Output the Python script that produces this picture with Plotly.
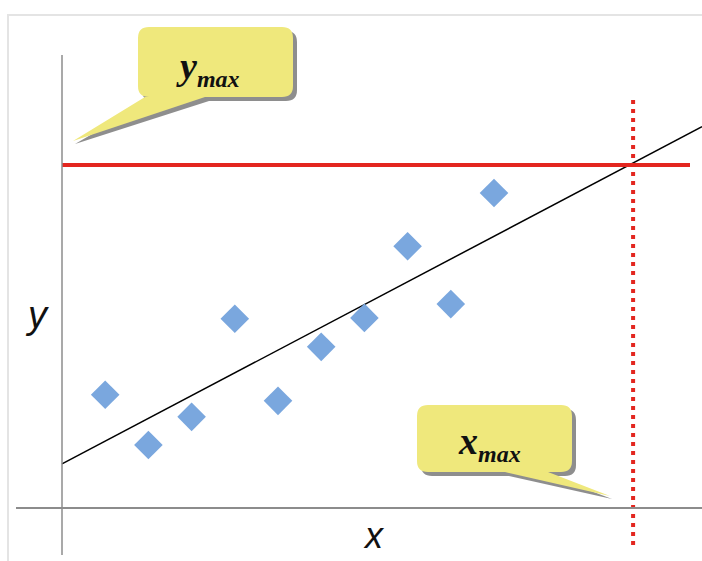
import plotly.graph_objects as go

# Sample observations
x_obs = [1, 2, 3, 4, 5, 6, 7, 8, 9, 10]
y_obs = [2.62, 1.46, 2.11, 4.38, 2.48, 3.73, 4.40, 6.06, 4.72, 7.29]

# Fitted trend line and the limits
trend_intercept = 1.02
trend_slope = 0.527
y_max = 7.94
x_max = 13.22

W, H = 702, 561
X0_PX, Y0_PX, UNIT = 62, 508, 43.2
x_range = [-X0_PX / UNIT, (W - X0_PX) / UNIT]
y_range = [(Y0_PX - H) / UNIT, Y0_PX / UNIT]


def px(xp, yp):
    """Pixel position -> data coordinates."""
    return (xp - X0_PX) / UNIT, (Y0_PX - yp) / UNIT


fig = go.Figure()

# Panel frame
fx0, fy0 = px(8, 15)
fx1, fy1 = px(W + 5, H + 5)
fig.add_shape(type="rect", x0=fx0, y0=fy0, x1=fx1, y1=fy1,
              line=dict(color="#e4e4e4", width=2), fillcolor="white", layer="below")

# Axes
ax0, ay0 = px(16, Y0_PX)
ax1, _ = px(W, Y0_PX)
fig.add_shape(type="line", x0=ax0, y0=0, x1=ax1, y1=0,
              line=dict(color="#8c8c8c", width=2))
_, vy0 = px(X0_PX, 555)
_, vy1 = px(X0_PX, 55)
fig.add_shape(type="line", x0=0, y0=vy0, x1=0, y1=vy1,
              line=dict(color="#8c8c8c", width=1.5))

# Trend line
xt = [0, x_range[1]]
fig.add_trace(go.Scatter(x=xt, y=[trend_intercept + trend_slope * v for v in xt],
                         mode="lines", line=dict(color="black", width=1.5),
                         hoverinfo="skip"))

# y_max level
fig.add_trace(go.Scatter(x=[0, px(690, 0)[0]], y=[y_max, y_max], mode="lines",
                         line=dict(color="#e3261f", width=4), hoverinfo="skip"))

# x_max level
fig.add_trace(go.Scatter(x=[x_max, x_max], y=[px(0, 545)[1], px(0, 95)[1]], mode="lines",
                         line=dict(color="#e3261f", width=4, dash="4px,5px"),
                         hoverinfo="skip"))

# Observations
fig.add_trace(go.Scatter(x=x_obs, y=y_obs, mode="markers",
                         marker=dict(symbol="diamond", size=22, color="#7aa7de",
                                     line=dict(width=0))))


def rounded_box_path(l, t, r, b, rad, tail):
    """Callout outline in pixels (rounded box with a tail on the bottom edge)."""
    def P(a, c):
        xx, yy = px(a, c)
        return f"{xx:.4f},{yy:.4f}"
    (bx0, bx1, tip) = tail
    s = f"M{P(l + rad, t)} L{P(r - rad, t)} Q{P(r, t)} {P(r, t + rad)} "
    s += f"L{P(r, b - rad)} Q{P(r, b)} {P(r - rad, b)} "
    s += f"L{P(bx1, b)} L{P(*tip)} L{P(bx0, b)} "
    s += f"L{P(l + rad, b)} Q{P(l, b)} {P(l, b - rad)} "
    s += f"L{P(l, t + rad)} Q{P(l, t)} {P(l + rad, t)} Z"
    return s


def label(var):
    return (f"<b><i>{var}<sub><span style='font-size:24px'>max</span></sub></i></b>")


callouts = [
    dict(box=(138, 27, 293, 97), tail=(145, 205, (73, 141)),
         text=label("y"), pos=(208, 68)),
    dict(box=(417, 405, 572, 472), tail=(505, 548, (610, 496)),
         text=label("x"), pos=(489, 443)),
]
for c in callouts:
    l, t, r, b = c["box"]
    bx0, bx1, tip = c["tail"]
    shadow = rounded_box_path(l + 4, t + 4, r + 4, b + 4, 11,
                              (bx0 + 4, bx1 + 4, (tip[0] + 2, tip[1] + 3)))
    fig.add_shape(type="path", path=shadow, fillcolor="#7a7a7a",
                  line=dict(width=0), opacity=0.85)
    fig.add_shape(type="path", path=rounded_box_path(l, t, r, b, 11, (bx0, bx1, tip)),
                  fillcolor="#efe87c", line=dict(width=0))
    ax, ay = px(*c["pos"])
    fig.add_annotation(x=ax, y=ay, text=c["text"], showarrow=False,
                       font=dict(family="Liberation Serif", size=38, color="#111"))

# Axis titles
tx, ty = px(37, 315)
fig.add_annotation(x=tx, y=ty, text="<i>y</i>", showarrow=False,
                   font=dict(family="Liberation Sans", size=38, color="#111"))
tx, ty = px(374, 535)
fig.add_annotation(x=tx, y=ty, text="<i>x</i>", showarrow=False,
                   font=dict(family="Liberation Sans", size=36, color="#111"))

fig.update_xaxes(range=x_range, visible=False, fixedrange=True)
fig.update_yaxes(range=y_range, visible=False, fixedrange=True)
fig.update_layout(width=W, height=H, margin=dict(l=0, r=0, t=0, b=0),
                  paper_bgcolor="white", plot_bgcolor="white", showlegend=False)

fig.write_html("out.html")
